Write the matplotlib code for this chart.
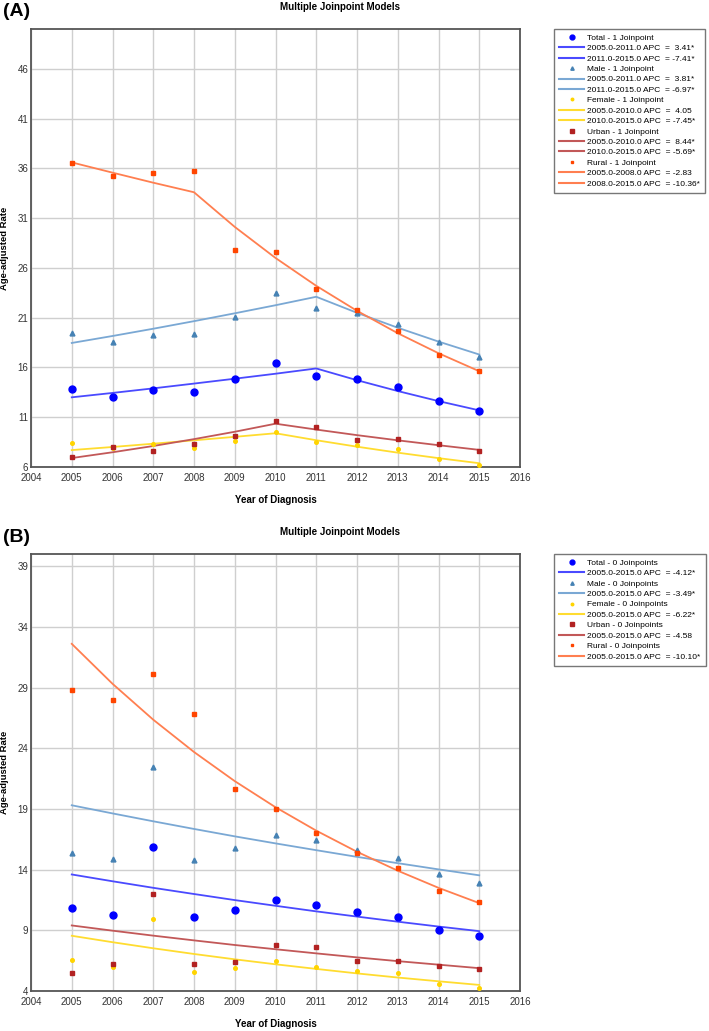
import matplotlib.pyplot as plt
from matplotlib.lines import Line2D

plt.rcParams["font.family"] = ["Liberation Sans", "DejaVu Sans"]

years = list(range(2005, 2016))

# panel A - observed rates and joinpoint fits (1 joinpoint)
a_total = [13.8, 13.0, 13.7, 13.5, 14.8, 16.4, 15.1, 14.8, 14.0, 12.6, 11.6]
a_total_fit = [13.0, 13.44, 13.9, 14.38, 14.87, 15.37, 15.9, 14.72, 13.63, 12.62, 11.69]
a_male = [19.5, 18.6, 19.3, 19.4, 21.1, 23.5, 22.0, 21.5, 20.4, 18.6, 17.1]
a_male_fit = [18.46, 19.16, 19.89, 20.65, 21.44, 22.25, 23.1, 21.49, 19.99, 18.6, 17.3]
a_female = [8.4, 7.9, 8.3, 7.9, 8.6, 9.5, 8.5, 8.2, 7.8, 6.8, 6.2]
a_female_fit = [7.7, 8.01, 8.34, 8.68, 9.03, 9.39, 8.69, 8.04, 7.44, 6.89, 6.38]
a_urban = [7.0, 8.0, 7.6, 8.3, 9.1, 10.6, 10.0, 8.7, 8.8, 8.3, 7.6]
a_urban_fit = [6.9, 7.48, 8.11, 8.8, 9.54, 10.35, 9.76, 9.2, 8.68, 8.19, 7.72]
a_rural = [36.5, 35.2, 35.5, 35.7, 27.8, 27.6, 23.9, 21.8, 19.7, 17.3, 15.6]
a_rural_fit = [36.6, 35.57, 34.56, 33.6, 30.12, 27.0, 24.2, 21.69, 19.44, 17.43, 15.62]

# panel B - observed rates and joinpoint fits (0 joinpoints)
b_total = [10.8, 10.23, 15.9, 10.07, 10.7, 11.5, 11.1, 10.5, 10.1, 9.0, 8.5]
b_total_fit = [13.6, 13.04, 12.5, 11.99, 11.49, 11.02, 10.56, 10.13, 9.71, 9.31, 8.93]
b_male = [15.4, 14.9, 22.45, 14.8, 15.8, 16.85, 16.4, 15.6, 14.95, 13.6, 12.9]
b_male_fit = [19.3, 18.63, 17.98, 17.35, 16.74, 16.16, 15.6, 15.05, 14.53, 14.02, 13.53]
b_female = [6.55, 6.0, 9.95, 5.56, 5.9, 6.5, 6.0, 5.67, 5.5, 4.58, 4.27]
b_female_fit = [8.55, 8.02, 7.52, 7.05, 6.61, 6.2, 5.82, 5.45, 5.11, 4.8, 4.5]
b_urban = [5.5, 6.2, 12.0, 6.2, 6.4, 7.75, 7.65, 6.45, 6.5, 6.1, 5.8]
b_urban_fit = [9.4, 8.97, 8.56, 8.17, 7.79, 7.44, 7.1, 6.77, 6.46, 6.17, 5.88]
b_rural = [28.8, 27.95, 30.1, 26.85, 20.6, 19.0, 17.0, 15.36, 14.15, 12.2, 11.3]
b_rural_fit = [32.6, 29.31, 26.35, 23.69, 21.29, 19.14, 17.21, 15.47, 13.91, 12.5, 11.24]

groups = ["Total", "Male", "Female", "Urban", "Rural"]
a_segments = [
    ["2005.0-2011.0 APC  =  3.41*", "2011.0-2015.0 APC  = -7.41*"],
    ["2005.0-2011.0 APC  =  3.81*", "2011.0-2015.0 APC  = -6.97*"],
    ["2005.0-2010.0 APC  =  4.05", "2010.0-2015.0 APC  = -7.45*"],
    ["2005.0-2010.0 APC  =  8.44*", "2010.0-2015.0 APC  = -5.69*"],
    ["2005.0-2008.0 APC  = -2.83", "2008.0-2015.0 APC  = -10.36*"],
]
b_segments = [
    ["2005.0-2015.0 APC  = -4.12*"],
    ["2005.0-2015.0 APC  = -3.49*"],
    ["2005.0-2015.0 APC  = -6.22*"],
    ["2005.0-2015.0 APC  = -4.58"],
    ["2005.0-2015.0 APC  = -10.10*"],
]

styles = {
    "Total":  dict(pt="#0000ff", ln="#4a4aff", marker="o", ms=5.0),
    "Male":   dict(pt="#4682b4", ln="#7aa8d4", marker="^", ms=3.5),
    "Female": dict(pt="#ffd400", ln="#ffdc30", marker="o", ms=2.6),
    "Urban":  dict(pt="#b22222", ln="#c25858", marker="s", ms=3.4),
    "Rural":  dict(pt="#ff4500", ln="#ff7f50", marker="s", ms=2.8),
}

W, H = 709, 1031
fig = plt.figure(figsize=(W / 100, H / 100), dpi=100)


def draw_panel(top_px, bot_px, obs, fits, ylo, yhi, letter, segments, njp):
    ax = fig.add_axes([31 / W, 1 - bot_px / H, 489 / W, (bot_px - top_px) / H])
    for g, y, f in zip(groups, obs, fits):
        s = styles[g]
        ax.plot(years, f, color=s["ln"], lw=1.3, zorder=3)
        ax.plot(years, y, ls="none", marker=s["marker"], ms=s["ms"],
                color=s["pt"], mec=s["pt"], zorder=4)
    ax.set_xlim(2004, 2016)
    ax.set_ylim(ylo, yhi)
    ax.set_xticks(range(2004, 2017))
    ax.set_yticks(range(ylo, int(yhi), 5))
    ax.grid(True, color="#cfcfcf", lw=1.0, zorder=0)
    ax.set_axisbelow(True)
    ax.tick_params(length=0, labelsize=7, colors="#333333")
    ax.tick_params(axis="y", pad=2)
    ax.tick_params(axis="x", pad=4)
    for sp in ax.spines.values():
        sp.set_color("#555555")
        sp.set_linewidth(1.3)
    ax.set_ylabel("Age-adjusted Rate", fontsize=6.8, fontweight="bold")
    ax.yaxis.set_label_coords(-22 / 489, 0.5)
    ax.set_xlabel("Year of Diagnosis", fontsize=7, fontweight="bold", labelpad=9)

    fig.text(3 / W, 1 - (top_px - 17) / H, letter, fontsize=14, fontweight="bold",
             va="center", ha="left")
    fig.text(340 / W, 1 - (top_px - 22) / H, "Multiple Joinpoint Models",
             fontsize=7, fontweight="bold", va="center", ha="center")

    handles, labels = [], []
    for g, segs in zip(groups, segments):
        s = styles[g]
        handles.append(Line2D([], [], ls="none", marker=s["marker"],
                              ms=s["ms"] * 0.7, color=s["pt"]))
        labels.append(f"{g} - {njp}")
        for seg in segs:
            handles.append(Line2D([], [], color=s["ln"], lw=1.5))
            labels.append(seg)
    leg = fig.legend(handles, labels, loc="upper left",
                     bbox_to_anchor=(554 / W, 1 - top_px / H),
                     fontsize=6.0, frameon=True, fancybox=False,
                     labelspacing=0.31, handlelength=3.0, handletextpad=0.4,
                     borderpad=0.6, borderaxespad=0, numpoints=1)
    leg.get_frame().set_edgecolor("#555555")
    leg.get_frame().set_linewidth(1.0)
    return ax


draw_panel(29, 467, [a_total, a_male, a_female, a_urban, a_rural],
           [a_total_fit, a_male_fit, a_female_fit, a_urban_fit, a_rural_fit],
           6, 50, "(A)", a_segments, "1 Joinpoint")
draw_panel(554, 991, [b_total, b_male, b_female, b_urban, b_rural],
           [b_total_fit, b_male_fit, b_female_fit, b_urban_fit, b_rural_fit],
           4, 40, "(B)", b_segments, "0 Joinpoints")

plt.savefig("out.png", dpi=100)
